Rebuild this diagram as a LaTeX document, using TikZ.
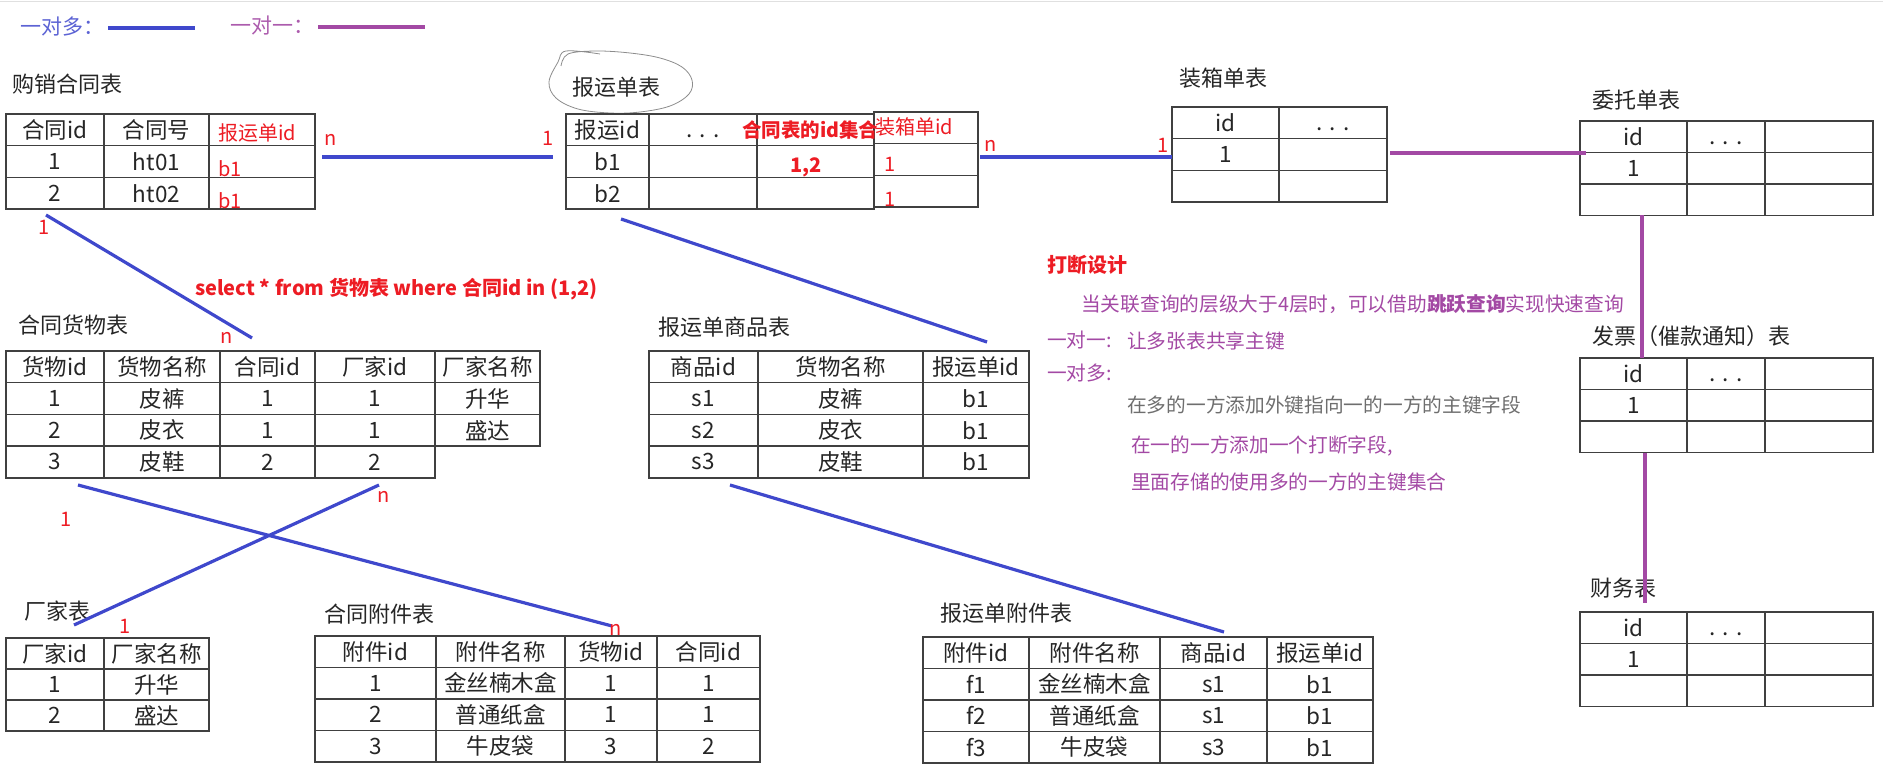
\documentclass[tikz,border=0pt]{standalone}
\usepackage{fontspec}
\usepackage{tikz}
\usetikzlibrary{positioning,calc}
\newfontfamily\song{Noto Sans CJK SC}
\newfontfamily\hei{Noto Sans CJK SC}
\definecolor{onemany}{RGB}{63,72,204}
\definecolor{oneone}{RGB}{163,73,164}
\definecolor{redmark}{RGB}{237,28,36}
\definecolor{notegray}{RGB}{110,110,110}
\newcommand\dotcell{\vphantom{国}.\kern7pt.\kern7pt.}

\begin{document}
\begin{tikzpicture}[x=1pt, y=-1pt,
      cell/.style={draw=black!75, line width=1.4pt, minimum height=31.7pt, inner sep=0pt,
                   text=black!85, font=\song\fontsize{22.5}{24}\selectfont},
      title/.style={anchor=west, inner sep=0pt, text=black!85, font=\song\fontsize{22}{24}\selectfont},
      redtxt/.style={anchor=west, inner sep=0pt, text=redmark, font=\hei\fontsize{20}{22}\selectfont},
      redbold/.style={redtxt, font=\hei\bfseries\fontsize{20}{22}\selectfont},
      card/.style={inner sep=0pt, text=redmark, font=\hei\fontsize{20}{22}\selectfont},
      legend/.style={anchor=west, inner sep=0pt, font=\hei\fontsize{21}{22}\selectfont},
      note/.style={anchor=west, inner sep=0pt, text=oneone, font=\hei\fontsize{19.7}{21}\selectfont},
      many/.style={draw=onemany, line width=3.2pt},
      single/.style={draw=oneone, line width=3.2pt},
    ]
    \useasboundingbox (0,0) rectangle (1883,771);
    \draw[black!12, line width=1pt] (0,1.5) -- (1883,1.5);

    % ---- legend ----
    \node[legend, text=onemany!85] (legmany) at (20,27) {一对多：};
    \coordinate (legmanyend) at (195,28);
    \draw[many] ([xshift=4pt]legmany.east |- legmanyend) -- (legmanyend);
    \node[legend, text=oneone!90] (legone) at (230,26) {一对一：};
    \coordinate (legoneend) at (425,27);
    \draw[single] ([xshift=4pt]legone.east |- legoneend) -- (legoneend);

    % ---- 购销合同表 ----
    \node[title] (gxtitle) at (12,84) {购销合同表};
    \foreach \a/\b [count=\j from 0] in {合同id/合同号, 1/ht01, 2/ht02} {
      \node[cell, minimum width=98pt] (gx-\j-1) at (55,129.85+31.7*\j) {\a};
      \node[cell, minimum width=105pt] (gx-\j-2) at (156.5,129.85+31.7*\j) {\b};
      \node[cell, minimum width=106pt] (gx-\j-3) at (262,129.85+31.7*\j) {};
    }
    \node[redtxt] (gxhead) at (218,133) {报运单id};
    \node[redtxt] (gxb1) at (218,169) {b1};
    \node[redtxt] (gxb2) at (218,201) {b1};

    % ---- 报运单表 ----
    \node[title] (bytitle) at (572,87) {报运单表};
    \draw[black!45, line width=0.8pt] plot[smooth, tension=0.6] coordinates {
      (600,54) (566,51) (558,62) (549,82) (556,98) (578,109) (610,113) (640,112)
      (670,106) (689,94) (692,80) (682,67) (660,58) (630,53) (596,51) (568,54) (561,66)};
    \foreach \a [count=\j from 0] in {报运id, b1, b2} {
      \node[cell, minimum width=83pt] (by-\j-1) at (607.5,129.85+31.7*\j) {\a};
      \node[cell, minimum width=108pt] (by-\j-2) at (703,129.85+31.7*\j) {\ifnum\j=0 \dotcell\fi};
      \node[cell, minimum width=117pt] (by-\j-3) at (815.5,129.85+31.7*\j) {};
      \node[cell, minimum width=104pt] (by-\j-4) at (926,127.85+31.7*\j) {};
    }
    \node[redbold, font=\hei\bfseries\fontsize{19.5}{22}\selectfont] (idset) at (742,130) {合同表的id集合};
    \node[redtxt] (zxhead) at (875,127) {装箱单id};
    \node[redbold] (set12) at (790,167) {1,2};
    \node[redtxt] (zxone) at (884,164) {1};
    \node[redtxt] (zxtwo) at (884,199) {1};

    % ---- 装箱单表 ----
    \node[title] (zxtitle) at (1179,78) {装箱单表};
    \foreach \a/\b [count=\j from 0] in {id/\dotcell, 1/{}, {}/{}} {
      \node[cell, minimum width=107pt] (zx-\j-1) at (1225.5,122.85+31.7*\j) {\a};
      \node[cell, minimum width=108pt] (zx-\j-2) at (1333,122.85+31.7*\j) {\b};
    }

    % ---- 委托单表 / 发票表 / 财务表 ----
    \node[title] (wttitle) at (1592,100) {委托单表};
    \node[title] (fptitle) at (1592,336) {发票（催款通知）表};
    \node[title] (cwtitle) at (1590,588) {财务表};
    \foreach \t/\y in {wt/136.75, fp/373.75, cw/627.75} {
      \foreach \a/\b [count=\j from 0] in {id/\dotcell, 1/{}, {}/{}} {
        \node[cell, minimum width=107pt, minimum height=31.5pt] (\t-\j-1) at (1633.5,\y+31.5*\j) {\a};
        \node[cell, minimum width=78pt, minimum height=31.5pt] (\t-\j-2) at (1726,\y+31.5*\j) {\b};
        \node[cell, minimum width=108pt, minimum height=31.5pt] (\t-\j-3) at (1819,\y+31.5*\j) {};
      }
    }

    % ---- 合同货物表 ----
    \node[title] (hwtitle) at (18,325) {合同货物表};
    \foreach \a/\b/\c/\d [count=\j from 0] in {货物id/货物名称/合同id/厂家id, 1/皮裤/1/1, 2/皮衣/1/1, 3/皮鞋/2/2} {
      \node[cell, minimum width=98pt] (hw-\j-1) at (55,366.85+31.7*\j) {\a};
      \node[cell, minimum width=116pt] (hw-\j-2) at (162,366.85+31.7*\j) {\b};
      \node[cell, minimum width=95pt] (hw-\j-3) at (267.5,366.85+31.7*\j) {\c};
      \node[cell, minimum width=120pt] (hw-\j-4) at (375,366.85+31.7*\j) {\d};
    }
    \foreach \a [count=\j from 0] in {厂家名称, 升华, 盛达}
      \node[cell, minimum width=105pt] (hw-\j-5) at (487.5,366.85+31.7*\j) {\a};

    % ---- 报运单商品表 ----
    \node[title] (bstitle) at (658,327) {报运单商品表};
    \foreach \a/\b/\c [count=\j from 0] in {商品id/货物名称/报运单id, s1/皮裤/b1, s2/皮衣/b1, s3/皮鞋/b1} {
      \node[cell, minimum width=109pt] (bs-\j-1) at (703.5,366.85+31.7*\j) {\a};
      \node[cell, minimum width=165pt] (bs-\j-2) at (840.5,366.85+31.7*\j) {\b};
      \node[cell, minimum width=106pt] (bs-\j-3) at (976,366.85+31.7*\j) {\c};
    }

    % ---- 厂家表 ----
    \node[title] (cjtitle) at (24,611) {厂家表};
    \foreach \a/\b [count=\j from 0] in {厂家id/厂家名称, 1/升华, 2/盛达} {
      \node[cell, minimum width=98pt, minimum height=31pt] (cj-\j-1) at (55,653.5+31*\j) {\a};
      \node[cell, minimum width=105pt, minimum height=31pt] (cj-\j-2) at (156.5,653.5+31*\j) {\b};
    }

    % ---- 合同附件表 ----
    \node[title] (hftitle) at (324,614) {合同附件表};
    \foreach \a/\b/\c/\d [count=\j from 0] in {附件id/附件名称/货物id/合同id, 1/金丝楠木盒/1/1, 2/普通纸盒/1/1, 3/牛皮袋/3/2} {
      \node[cell, minimum width=121pt, minimum height=31.5pt] (hf-\j-1) at (375.5,651.75+31.5*\j) {\a};
      \node[cell, minimum width=129pt, minimum height=31.5pt] (hf-\j-2) at (500.5,651.75+31.5*\j) {\b};
      \node[cell, minimum width=92pt, minimum height=31.5pt] (hf-\j-3) at (611,651.75+31.5*\j) {\c};
      \node[cell, minimum width=103pt, minimum height=31.5pt] (hf-\j-4) at (708.5,651.75+31.5*\j) {\d};
    }

    % ---- 报运单附件表 ----
    \node[title] (bftitle) at (940,613) {报运单附件表};
    \foreach \a/\b/\c/\d [count=\j from 0] in {附件id/附件名称/商品id/报运单id, f1/金丝楠木盒/s1/b1, f2/普通纸盒/s1/b1, f3/牛皮袋/s3/b1} {
      \node[cell, minimum width=106pt, minimum height=31.5pt] (bf-\j-1) at (976,652.75+31.5*\j) {\a};
      \node[cell, minimum width=131pt, minimum height=31.5pt] (bf-\j-2) at (1094.5,652.75+31.5*\j) {\b};
      \node[cell, minimum width=107pt, minimum height=31.5pt] (bf-\j-3) at (1213.5,652.75+31.5*\j) {\c};
      \node[cell, minimum width=106pt, minimum height=31.5pt] (bf-\j-4) at (1320,652.75+31.5*\j) {\d};
    }

    % ---- 打断设计 ----
    \node[redbold] (breaktitle) at (1047,265) {打断设计};
    \node[note] (breakrule) at (1081,304) {当关联查询的层级大于4层时，可以借助\textbf{跳跃查询}实现快速查询};
    \node[note] (oneonelabel) at (1047,340) {一对一:};
    \node[note] (oneonetext) at (1127,341) {让多张表共享主键};
    \node[note] (onemanylabel) at (1047,373) {一对多:};
    \node[note, text=notegray] (onemanytext) at (1127,405) {在多的一方添加外键指向一的一方的主键字段};
    \node[note] (breakfield) at (1131,446) {在一的一方添加一个打断字段,};
    \node[note] (breakkeys) at (1131,482) {里面存储的使用多的一方的主键集合};

    \node[redbold, font=\hei\bfseries\fontsize{20}{21}\selectfont] (query) at (195,289)
      {select * from 货物表 where 合同id in (1,2)};

    % ---- connectors ----
    \coordinate (gxout) at (322,157);   \coordinate (byin) at (553,157);
    \coordinate (byout) at (980,157);   \coordinate (zxin) at (1172,157);
    \coordinate (zxout) at (1390,153);  \coordinate (wtin) at (1586,153);
    \coordinate (wtdown) at (1642,215); \coordinate (fpup) at (1642,358);
    \coordinate (fpdown) at (1645,453); \coordinate (cwup) at (1645,603);
    \coordinate (gxdown) at (46,215);   \coordinate (hwup) at (252,338);
    \coordinate (bydown) at (621,219);  \coordinate (bsup) at (987,342);
    \coordinate (bsdown) at (730,485);  \coordinate (bfup) at (1224,632);
    \coordinate (hwdown) at (78,485);   \coordinate (hfup) at (612,626);
    \coordinate (hwcj) at (379,485);    \coordinate (cjup) at (74,625);

    \draw[many] (gxout) -- (byin);
    \draw[many] (byout) -- (zxin);
    \draw[single] (zxout) -- (wtin);
    \draw[single] (wtdown) -- (fpup);
    \draw[single] (fpdown) -- (cwup);
    \draw[many] (gxdown) -- (hwup);
    \draw[many] (bydown) -- (bsup);
    \draw[many] (bsdown) -- (bfup);
    \draw[many] (hwdown) -- (hfup);
    \draw[many] (hwcj) -- (cjup);

    % cardinalities
    \node[card] (n1) at (331,140) {n};
    \node[card] (o1) at (548,138) {1};
    \node[card] (n2) at (991,146) {n};
    \node[card] (o2) at (1163,145) {1};
    \node[card] (o3) at (44,227) {1};
    \node[card] (n3) at (227,338) {n};
    \node[card] (n4) at (384,497) {n};
    \node[card] (o4) at (66,519) {1};
    \node[card] (o5) at (125,626) {1};
    \node[card] (n5) at (616,630) {n};
  \end{tikzpicture}
\end{document}
